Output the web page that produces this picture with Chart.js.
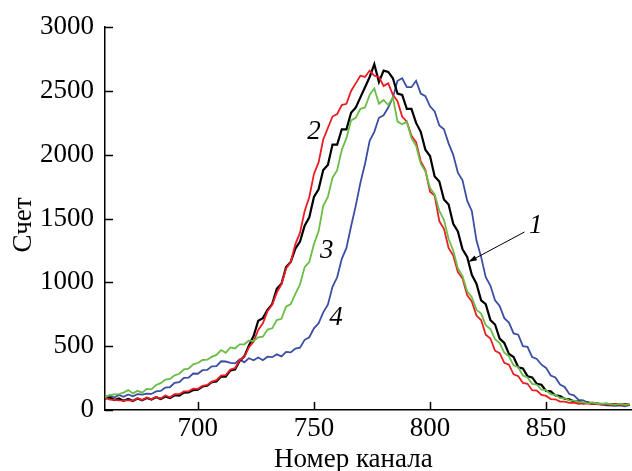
<!DOCTYPE html>
<html>
<head>
<meta charset="utf-8">
<script src="https://cdn.jsdelivr.net/npm/chart.js@4.4.0/dist/chart.umd.min.js"></script>
<style>
  html, body { margin: 0; padding: 0; background: #fff; }
</style>
</head>
<body>
<canvas id="spectrum" width="632" height="471"></canvas>
<script>

// channel numbers (every 2nd channel)
var channels = [660, 662, 664, 666, 668, 670, 672, 674, 676, 678, 680, 682, 684, 686, 688, 690, 692, 694, 696, 698,
    700, 702, 704, 706, 708, 710, 712, 714, 716, 718, 720, 722, 724, 726, 728, 730, 732, 734, 736, 738,
    740, 742, 744, 746, 748, 750, 752, 754, 756, 758, 760, 762, 764, 766, 768, 770, 772, 774, 776, 778,
    780, 782, 784, 786, 788, 790, 792, 794, 796, 798, 800, 802, 804, 806, 808, 810, 812, 814, 816, 818,
    820, 822, 824, 826, 828, 830, 832, 834, 836, 838, 840, 842, 844, 846, 848, 850, 852, 854, 856, 858,
    860, 862, 864, 866, 868, 870, 872, 874, 876, 878, 880, 882, 884, 886];

// curve 1 (black)
var counts1 = [88, 98, 78, 90, 72, 86, 70, 90, 76, 94, 82, 100, 86, 106, 94, 116, 112, 136, 138, 156,
    160, 184, 190, 218, 224, 262, 262, 310, 318, 385, 420, 505, 580, 700, 720, 785, 830, 950, 990, 1120,
    1160, 1265, 1320, 1445, 1510, 1670, 1730, 1880, 1920, 2080, 2080, 2200, 2200, 2330, 2370, 2450, 2530, 2610, 2710, 2570,
    2660, 2650, 2600, 2480, 2470, 2360, 2360, 2250, 2180, 2040, 1990, 1830, 1790, 1650, 1610, 1460, 1400, 1260, 1200, 1060,
    990, 860, 830, 705, 670, 560, 525, 440, 415, 335, 325, 265, 255, 205, 198, 150, 146, 114, 110, 88,
    84, 66, 66, 52, 60, 48, 50, 46, 48, 44, 46, 42, 44, 40];

// curve 2 (red)
var counts2 = [98, 82, 80, 76, 74, 78, 72, 92, 78, 98, 84, 102, 90, 114, 100, 124, 124, 146, 146, 168,
    166, 190, 196, 222, 234, 270, 274, 318, 328, 390, 415, 492, 535, 628, 680, 775, 825, 920, 985, 1110,
    1160, 1300, 1390, 1560, 1670, 1850, 1940, 2120, 2210, 2300, 2320, 2390, 2400, 2500, 2560, 2620, 2610, 2660, 2620, 2610,
    2540, 2560, 2470, 2420, 2300, 2260, 2150, 2100, 1950, 1880, 1710, 1680, 1480, 1420, 1270, 1210, 1080, 1030, 900, 850,
    740, 705, 590, 560, 465, 445, 370, 355, 280, 265, 212, 205, 155, 152, 118, 110, 86, 84, 66, 66,
    56, 58, 48, 52, 50, 46, 52, 40, 50, 38, 47, 36, 44, 40];

// curve 3 (green)
var counts3 = [100, 116, 122, 124, 136, 156, 130, 150, 136, 166, 162, 196, 210, 238, 244, 272, 284, 318, 324, 358,
    368, 392, 394, 416, 432, 470, 448, 490, 482, 515, 515, 545, 540, 570, 575, 630, 640, 705, 715, 810,
    830, 910, 985, 1120, 1160, 1300, 1400, 1600, 1670, 1820, 1880, 2040, 2130, 2270, 2290, 2360, 2370, 2470, 2520, 2400,
    2430, 2390, 2450, 2260, 2240, 2260, 2130, 2070, 1930, 1870, 1740, 1690, 1560, 1490, 1340, 1250, 1110, 1050, 930, 885,
    785, 755, 665, 635, 555, 525, 450, 420, 350, 335, 270, 255, 205, 198, 160, 155, 122, 118, 94, 92,
    76, 74, 62, 62, 52, 60, 48, 50, 50, 46, 40, 50, 38, 46];

// curve 4 (blue)
var counts4 = [105, 114, 98, 118, 104, 122, 108, 124, 120, 128, 126, 146, 150, 176, 180, 212, 218, 252, 254, 286,
    284, 312, 314, 342, 344, 382, 380, 370, 365, 396, 374, 406, 390, 412, 390, 418, 414, 436, 420, 455,
    452, 482, 488, 550, 570, 640, 680, 765, 825, 965, 1040, 1185, 1270, 1440, 1600, 1780, 1930, 2110, 2180, 2290,
    2310, 2370, 2450, 2580, 2600, 2530, 2530, 2580, 2480, 2460, 2380, 2340, 2230, 2200, 2090, 2000, 1860, 1800, 1640, 1560,
    1330, 1200, 1040, 975, 860, 815, 720, 685, 600, 590, 500, 495, 415, 400, 355, 330, 270, 255, 200, 180,
    125, 115, 80, 76, 56, 58, 44, 44, 36, 34, 32, 36, 28, 40];

var xTicks = [700, 750, 800, 850];
var yTicks = [0, 500, 1000, 1500, 2000, 2500, 3000];

// curve numbers: [text, channel, count]
var curveLabels = [
    ["1", 845.5, 1440],
    ["2", 750, 2180],
    ["3", 755.5, 1245],
    ["4", 759.5, 720]
];
// arrow from label 1 to curve 1: [fromChannel, fromCount, toChannel, toCount]
var arrow1 = [840.7, 1395, 816.5, 1160];

var serif = "'Liberation Serif', 'Times New Roman', serif";

function toPoints(vals) {
    return channels.map(function(c, i) { return { x: c, y: vals[i] }; });
}

var decor = {
    id: 'decor',
    afterDraw: function(chart) {
        var ctx = chart.ctx;
        var xs = chart.scales.x, ys = chart.scales.y;
        var area = chart.chartArea;
        ctx.save();
        ctx.strokeStyle = '#000';
        ctx.lineWidth = 1.5;
        // inward tick marks
        ctx.beginPath();
        xTicks.forEach(function(t) {
            var px = Math.round(xs.getPixelForValue(t)) + 0.5;
            ctx.moveTo(px, area.bottom);
            ctx.lineTo(px, area.bottom - 8);
        });
        yTicks.forEach(function(t) {
            var py = Math.round(ys.getPixelForValue(t)) + 0.5;
            ctx.moveTo(area.left, py);
            ctx.lineTo(area.left + 8, py);
        });
        ctx.stroke();

        // axis titles
        ctx.fillStyle = '#000';
        ctx.font = "27px " + serif;
        ctx.textAlign = 'center';
        ctx.textBaseline = 'alphabetic';
        ctx.fillText("Номер канала", xs.getPixelForValue(767), 467);
        ctx.save();
        ctx.translate(31, 225);
        ctx.rotate(-Math.PI / 2);
        ctx.fillText("Счет", 0, 0);
        ctx.restore();

        // curve numbers
        ctx.font = "italic 27px " + serif;
        ctx.textBaseline = 'middle';
        curveLabels.forEach(function(l) {
            ctx.fillText(l[0], xs.getPixelForValue(l[1]), ys.getPixelForValue(l[2]));
        });

        // arrow
        var x0 = xs.getPixelForValue(arrow1[0]), y0 = ys.getPixelForValue(arrow1[1]);
        var x1 = xs.getPixelForValue(arrow1[2]), y1 = ys.getPixelForValue(arrow1[3]);
        var ang = Math.atan2(y1 - y0, x1 - x0);
        ctx.lineWidth = 1;
        ctx.beginPath();
        ctx.moveTo(x0, y0);
        ctx.lineTo(x1 - 6 * Math.cos(ang), y1 - 6 * Math.sin(ang));
        ctx.stroke();
        ctx.beginPath();
        ctx.moveTo(x1, y1);
        ctx.lineTo(x1 - 9 * Math.cos(ang - 0.3), y1 - 9 * Math.sin(ang - 0.3));
        ctx.lineTo(x1 - 9 * Math.cos(ang + 0.3), y1 - 9 * Math.sin(ang + 0.3));
        ctx.closePath();
        ctx.fill();
        ctx.restore();
    }
};

var ctx = document.getElementById('spectrum').getContext('2d');
var spectrumChart = new Chart(ctx, {
    type: 'line',
    data: {
        datasets: [
            { label: '4', data: toPoints(counts4), borderColor: '#3a4ea3', order: 4 },
            { label: '1', data: toPoints(counts1), borderColor: '#000000', borderWidth: 2.2, order: 3 },
            { label: '2', data: toPoints(counts2), borderColor: '#ec1c24', order: 2 },
            { label: '3', data: toPoints(counts3), borderColor: '#6abd45', order: 1 }
        ]
    },
    options: {
        responsive: false,
        animation: false,
        devicePixelRatio: 1,
        layout: { padding: { top: 20, right: 0, left: 0, bottom: 0 } },
        elements: {
            line: { borderWidth: 1.8, tension: 0, fill: false },
            point: { radius: 0 }
        },
        scales: {
            x: {
                type: 'linear',
                min: 660,
                max: 887,
                afterBuildTicks: function(axis) {
                    axis.ticks = xTicks.map(function(v) { return { value: v }; });
                },
                afterFit: function(axis) { axis.height = 61; },
                grid: { display: false, drawTicks: false },
                border: { display: true, color: '#000', width: 1.5 },
                ticks: { color: '#000', padding: 3, maxRotation: 0, font: { family: serif, size: 27 },
                    callback: function(v) { return String(v); } }
            },
            y: {
                min: 0,
                max: 3000,
                afterBuildTicks: function(axis) {
                    axis.ticks = yTicks.map(function(v) { return { value: v }; });
                },
                afterFit: function(axis) { axis.width = 105; },
                grid: { display: false, drawTicks: false },
                border: { display: true, color: '#000', width: 1.5 },
                ticks: { color: '#000', padding: 11, font: { family: serif, size: 27 },
                    callback: function(v) { return String(v); } }
            }
        },
        plugins: {
            legend: { display: false },
            tooltip: { enabled: false }
        }
    },
    plugins: [decor]
});

</script>
</body>
</html>
